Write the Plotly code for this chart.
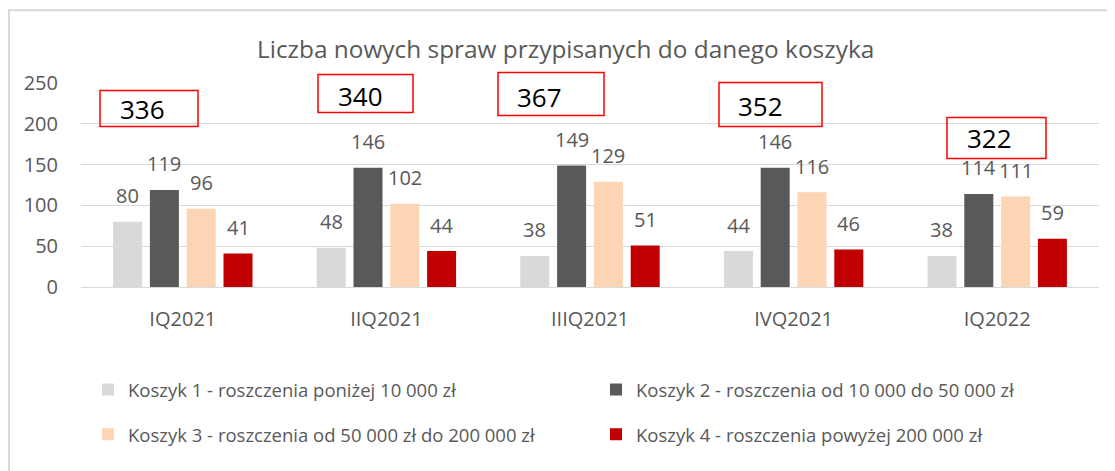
import plotly.graph_objects as go

categories = ["IQ2021", "IIQ2021", "IIIQ2021", "IVQ2021", "IQ2022"]
series_names = [
    "Koszyk 1 - roszczenia poniżej 10 000 zł",
    "Koszyk 2 - roszczenia od 10 000 do 50 000 zł",
    "Koszyk 3 - roszczenia od 50 000 zł do 200 000 zł",
    "Koszyk 4 - roszczenia powyżej 200 000 zł",
]
koszyk1 = [80, 48, 38, 44, 38]
koszyk2 = [119, 146, 149, 146, 114]
koszyk3 = [96, 102, 129, 116, 111]
koszyk4 = [41, 44, 51, 46, 59]
title_text = "Liczba nowych spraw przypisanych do danego koszyka"
y_ticks = [0, 50, 100, 150, 200, 250]

series = [koszyk1, koszyk2, koszyk3, koszyk4]
colors = ["#D9D9D9", "#595959", "#FCD5B5", "#C00000"]
legends = ["legend", "legend", "legend2", "legend2"]
totals = [sum(v) for v in zip(*series)]

# page body has an 8px default margin; work in figure pixel coordinates
OFF = 8
W, H = 1115 - OFF, 471 - OFF
ML, MR, MT, MB = 81 - OFF, 16, 82.5 - OFF, 183.5
plot_w = W - ML - MR
plot_h = H - MT - MB
BARGAP = 0.277
GROUPGAP = 0.212
n_cat = len(categories)
cat_px = plot_w / n_cat
slot_px = (1 - BARGAP) * cat_px / len(series)


def px_x(x):
    return (x - OFF - ML) / plot_w


def px_y(y):
    return 1 - (y - OFF - MT) / plot_h


fig = go.Figure()
for name, vals, col, lg in zip(series_names, series, colors, legends):
    fig.add_trace(go.Bar(name=name, x=categories, y=vals, marker_color=col,
                         marker_line_width=0, legend=lg))

annotations = []
for k, vals in enumerate(series):
    off = (k - (len(series) - 1) / 2) * slot_px
    for c, v in zip(categories, vals):
        annotations.append(dict(x=c, y=v, xref="x", yref="y", text=str(v),
                                showarrow=False, xshift=off, yshift=26,
                                font=dict(size=20, color="#595959",
                                          family="Open Sans")))

# total boxes (pixel offsets relative to category centre / zero line)
box_geo = [
    (-82.8, 15.2, 160.5, 196.5, -40, 178.5),
    (-68.4, 26.6, 174.5, 212.5, -26, 191.5),
    (-92.0, 14.0, 171.5, 214.5, -51, 190.5),
    (-74.6, 28.4, 160.5, 204.5, -33, 181.5),
    (-50.2, 48.8, 128.5, 169.5, -8, 149.5),
]
shapes = []
for i, (c, t, (x0, x1, y0, y1, tx, ty)) in enumerate(zip(categories, totals, box_geo)):
    shapes.append(dict(type="rect", xref="paper", yref="paper",
                       xsizemode="pixel", ysizemode="pixel",
                       xanchor=(i + 0.5) / n_cat, yanchor=0,
                       x0=x0, x1=x1, y0=y0, y1=y1,
                       line=dict(color="#FF0000", width=1.5),
                       fillcolor="rgba(255,255,255,0)"))
    annotations.append(dict(x=c, y=0, xref="x", yref="y", text=str(t),
                            showarrow=False, xshift=tx, yshift=ty,
                            font=dict(size=26, color="#000000",
                                      family="Open Sans")))

# outer chart border
shapes.append(dict(type="rect", xref="paper", yref="paper",
                   x0=px_x(OFF + 1), x1=1.1,
                   y0=-1.2, y1=px_y(9.5),
                   line=dict(color="#D9D9D9", width=2), layer="below"))

annotations.append(dict(x=px_x(565), y=px_y(48),
                        xref="paper", yref="paper", text=title_text,
                        showarrow=False, xanchor="center", yanchor="middle",
                        font=dict(size=24.4, color="#595959", family="Open Sans")))

leg_x = (80 - ML) / plot_w
fig.update_layout(
    width=W, height=H,
    margin=dict(l=ML, r=MR, t=MT, b=MB, pad=0, autoexpand=False),
    paper_bgcolor="white", plot_bgcolor="white",
    barmode="group", bargap=BARGAP, bargroupgap=GROUPGAP,
    font=dict(family="Open Sans", color="#595959"),
    showlegend=True,
    legend=dict(orientation="h", x=leg_x, xanchor="left",
                y=px_y(391), yanchor="middle",
                entrywidth=463, entrywidthmode="pixels",
                font=dict(size=18.5, color="#595959"), bgcolor="rgba(0,0,0,0)"),
    legend2=dict(orientation="h", x=leg_x, xanchor="left",
                 y=px_y(436), yanchor="middle",
                 entrywidth=463, entrywidthmode="pixels",
                 font=dict(size=18.5, color="#595959"), bgcolor="rgba(0,0,0,0)"),
    shapes=shapes,
    annotations=annotations,
)
fig.update_xaxes(showline=False, ticks="", ticklabelstandoff=18,
                 tickfont=dict(size=20, color="#595959"), showgrid=False)
fig.update_yaxes(range=[0, 250], tickvals=y_ticks, showline=False,
                 gridcolor="#D9D9D9", gridwidth=1.3, zeroline=True,
                 zerolinecolor="#D9D9D9", zerolinewidth=1.3,
                 ticks="", ticklabelstandoff=22,
                 tickfont=dict(size=20, color="#595959"))

fig.write_html("out.html")
